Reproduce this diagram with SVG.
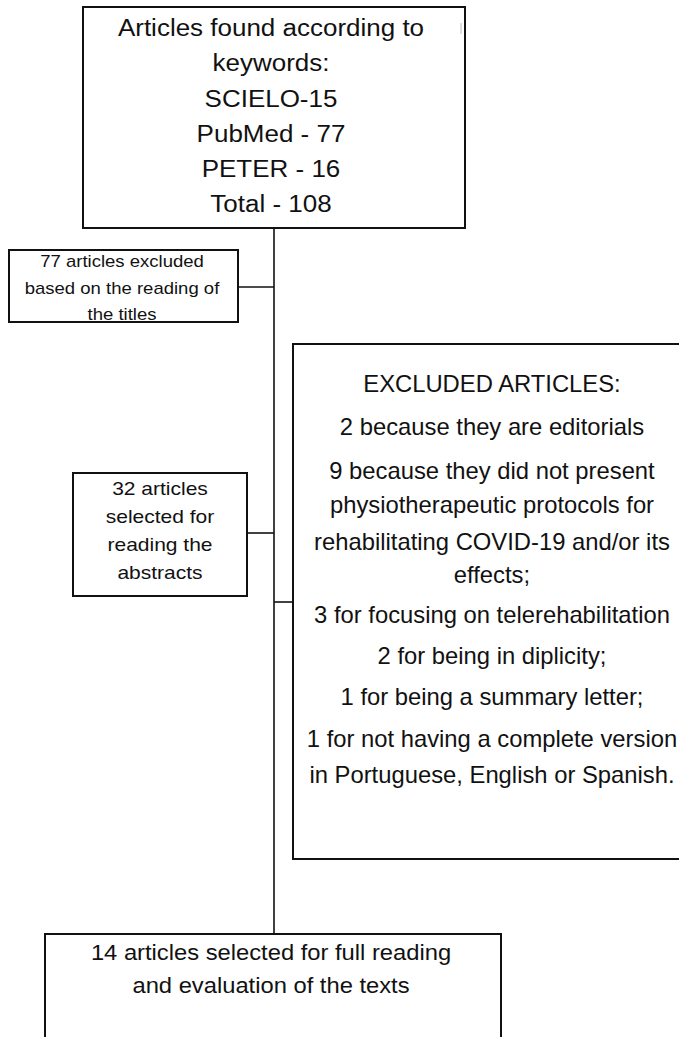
<svg xmlns="http://www.w3.org/2000/svg" width="679" height="1037" viewBox="0 0 679 1037">
<style>
.box{fill:#fff;stroke:#111;stroke-width:2}
.ln{stroke:#111;stroke-width:1.6;fill:none}
text{font-family:"Liberation Sans",Arial,Helvetica,sans-serif;fill:#111;text-anchor:middle}
.t1{font-size:23px}
.t2{font-size:16.4px}
.t3{font-size:18.6px}
.t4{font-size:23.8px}
.t5{font-size:22px}
</style>
<rect width="679" height="1037" fill="#fff"/>
<g id="connectors">
<line class="ln" x1="274" y1="228" x2="274" y2="934"/>
<line class="ln" x1="238" y1="287" x2="274" y2="287"/>
<line class="ln" x1="247" y1="533" x2="274" y2="533"/>
<line class="ln" x1="274" y1="602" x2="293" y2="602"/>
</g>
<g id="found">
<rect class="box" x="83" y="7" width="382" height="221"/>
<line x1="461" y1="23" x2="461" y2="34" stroke="#bbb" stroke-width="1"/>
<text class="t1" transform="translate(271 36) scale(1.13 1)">Articles found according to</text>
<text class="t1" transform="translate(271 71) scale(1.13 1)">keywords:</text>
<text class="t1" transform="translate(271 107) scale(1.13 1)">SCIELO-15</text>
<text class="t1" transform="translate(271 142) scale(1.13 1)">PubMed - 77</text>
<text class="t1" transform="translate(271 177) scale(1.13 1)">PETER - 16</text>
<text class="t1" transform="translate(271 212) scale(1.13 1)">Total - 108</text>
</g>
<g id="excluded-titles">
<rect class="box" x="9" y="250" width="229" height="72"/>
<text class="t2" transform="translate(122 267) scale(1.13 1)">77 articles excluded</text>
<text class="t2" transform="translate(122 293.5) scale(1.13 1)">based on the reading of</text>
<text class="t2" transform="translate(122 320) scale(1.13 1)">the titles</text>
</g>
<g id="selected-abstracts">
<rect class="box" x="73" y="473" width="174" height="123"/>
<text class="t3" transform="translate(160 495) scale(1.13 1)">32 articles</text>
<text class="t3" transform="translate(160 523) scale(1.13 1)">selected for</text>
<text class="t3" transform="translate(160 551) scale(1.13 1)">reading the</text>
<text class="t3" transform="translate(160 579) scale(1.13 1)">abstracts</text>
</g>
<g id="excluded-articles">
<rect class="box" x="293" y="344" width="400" height="515"/>
<text class="t4" x="492" y="392">EXCLUDED ARTICLES:</text>
<text class="t4" x="492" y="435">2 because they are editorials</text>
<text class="t4" x="492" y="479">9 because they did not present</text>
<text class="t4" x="492" y="513">physiotherapeutic protocols for</text>
<text class="t4" x="492" y="550">rehabilitating COVID-19 and/or its</text>
<text class="t4" x="492" y="583">effects;</text>
<text class="t4" x="492" y="623">3 for focusing on telerehabilitation</text>
<text class="t4" x="492" y="664">2 for being in diplicity;</text>
<text class="t4" x="492" y="705">1 for being a summary letter;</text>
<text class="t4" x="492" y="747">1 for not having a complete version</text>
<text class="t4" x="492" y="783">in Portuguese, English or Spanish.</text>
</g>
<g id="full-reading">
<rect class="box" x="45" y="934" width="456" height="130"/>
<text class="t5" transform="translate(271 960) scale(1.08 1)">14 articles selected for full reading</text>
<text class="t5" transform="translate(271 993) scale(1.08 1)">and evaluation of the texts</text>
</g>
</svg>
